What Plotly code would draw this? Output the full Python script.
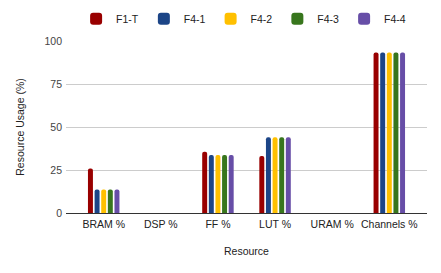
import plotly.graph_objects as go

categories = ["BRAM %", "DSP %", "FF %", "LUT %", "URAM %", "Channels %"]
f1_t = [25.9, 0, 35.6, 33.1, 0, 93.3]
f4_1 = [13.6, 0, 33.7, 44.0, 0, 93.3]
f4_2 = [13.6, 0, 33.7, 44.0, 0, 93.3]
f4_3 = [13.6, 0, 33.7, 44.0, 0, 93.3]
f4_4 = [13.6, 0, 33.7, 44.0, 0, 93.3]
series_names = ["F1-T", "F4-1", "F4-2", "F4-3", "F4-4"]
colors = ["#990000", "#1c4587", "#ffc000", "#38761d", "#674ea7"]
y_ticks = [0, 25, 50, 75, 100]

fig = go.Figure()
for name, vals, c in zip(series_names, [f1_t, f4_1, f4_2, f4_3, f4_4], colors):
    fig.add_trace(go.Bar(x=categories, y=vals, name=name,
                         marker=dict(color=c, line=dict(width=0), cornerradius=2)))

fig.update_layout(
    width=441, height=273,
    margin=dict(l=66, r=14, t=41, b=60, autoexpand=False),
    paper_bgcolor="white", plot_bgcolor="white",
    font=dict(family="Liberation Sans, Arial", size=10.5, color="#222"),
    barmode="group", bargap=0.42, bargroupgap=0.25,
    legend=dict(orientation="h", x=0.492, xanchor="center", y=1.13, yanchor="middle",
                font=dict(size=10.5, color="#222"), tracegroupgap=0),
    xaxis=dict(range=[-0.66, 5.66], showgrid=False, ticks="", showline=False,
               zeroline=False, tickfont=dict(size=10.5, color="#222"), automargin=False,
               ticklabelstandoff=3,
               title=dict(text="Resource", font=dict(size=10.5, color="#222"), standoff=19)),
    yaxis=dict(range=[0, 100], tickvals=y_ticks, showgrid=True, gridcolor="#cccccc",
               gridwidth=1, zeroline=True, zerolinecolor="#333333", zerolinewidth=1,
               ticks="", tickfont=dict(size=10.5, color="#444"), automargin=False,
               ticklabelstandoff=3,
               title=dict(text="Resource Usage (%)", font=dict(size=10.5, color="#222"), standoff=17)),
)
fig.write_html("out.html", config={"displayModeBar": False},
               post_script="document.body.style.margin='0';document.body.style.overflow='hidden';")
